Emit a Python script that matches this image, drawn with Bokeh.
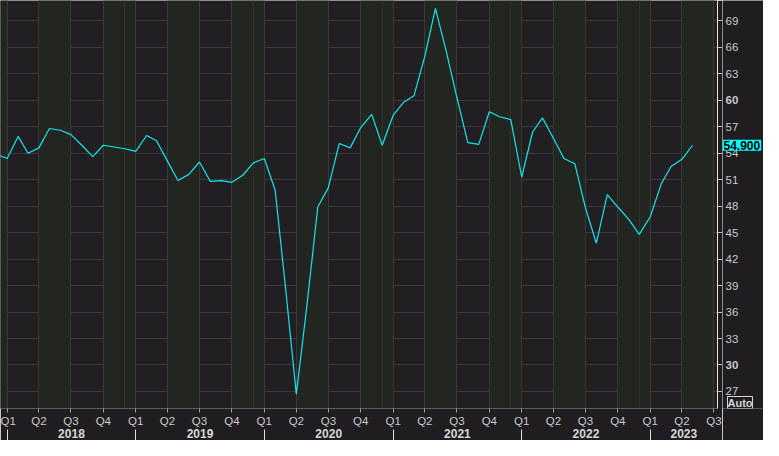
import datetime as dt
from bokeh.plotting import figure
from bokeh.models import Range1d, FixedTicker, LinearAxis, Label, Grid, ColumnDataSource
from bokeh.core.properties import value
from bokeh.layouts import row
from bokeh.embed import file_html
from bokeh.resources import INLINE

# ---- data (monthly, first day of month) ----
months = ["2017-12",
          "2018-01", "2018-02", "2018-03", "2018-04", "2018-05", "2018-06",
          "2018-07", "2018-08", "2018-09", "2018-10", "2018-11", "2018-12",
          "2019-01", "2019-02", "2019-03", "2019-04", "2019-05", "2019-06",
          "2019-07", "2019-08", "2019-09", "2019-10", "2019-11", "2019-12",
          "2020-01", "2020-02", "2020-03", "2020-04", "2020-05", "2020-06",
          "2020-07", "2020-08", "2020-09", "2020-10", "2020-11", "2020-12",
          "2021-01", "2021-02", "2021-03", "2021-04", "2021-05", "2021-06",
          "2021-07", "2021-08", "2021-09", "2021-10", "2021-11", "2021-12",
          "2022-01", "2022-02", "2022-03", "2022-04", "2022-05", "2022-06",
          "2022-07", "2022-08", "2022-09", "2022-10", "2022-11", "2022-12",
          "2023-01", "2023-02", "2023-03", "2023-04", "2023-05"]
values = [53.9,
          53.4, 55.9, 54.0, 54.6, 56.8, 56.6, 56.1, 54.9, 53.6, 54.9, 54.7, 54.5,
          54.2, 56.0, 55.4, 53.1, 50.9, 51.6, 53.0, 50.8, 50.9, 50.7, 51.5, 52.9,
          53.4, 49.8, 38.9, 26.7, 36.7, 47.9, 50.1, 55.1, 54.6, 56.9, 58.4, 54.9,
          58.3, 59.8, 60.5, 65.0, 70.4, 65.5, 60.3, 55.2, 55.0, 58.7, 58.1, 57.8,
          51.3, 56.4, 58.0, 55.7, 53.4, 52.8, 47.8, 43.8, 49.3, 47.9, 46.5, 44.8,
          46.8, 50.5, 52.5, 53.3, 54.9]
y_ticks = [27, 30, 33, 36, 39, 42, 45, 48, 51, 54, 57, 60, 63, 66, 69, 72]
years = [2018, 2019, 2020, 2021, 2022, 2023]
quarter_names = ["Q1", "Q2", "Q3", "Q4"]

EPOCH = dt.date(2018, 1, 1)


def day(d):
    return (d - EPOCH).days


xs = [day(dt.date(int(m[:4]), int(m[5:]), 1)) for m in months]

X_START = day(dt.date(2017, 12, 13))
X_END = day(dt.date(2023, 7, 11))
Y_START, Y_END = 25.07, 71.3

W, H = 763, 440
SIDE_W = 41
MAIN_W = W - SIDE_W
BOTTOM = 31

BG = "#1f1d20"
GRID = "#3a3b38"
TXT = "#c9c9c9"
FONT = "Liberation Sans"

p = figure(width=MAIN_W, height=H, output_backend="svg", toolbar_location=None,
           x_axis_type=None, y_axis_location="right",
           x_range=Range1d(X_START, X_END), y_range=Range1d(Y_START, Y_END),
           background_fill_color="#221f23", border_fill_color=BG,
           min_border_left=0, min_border_top=0, min_border_bottom=BOTTOM,
           min_border_right=5)
p.outline_line_color = None

# quarter ticks
q_ticks, q_over = [], {}
for yr in range(2017, 2024):
    for qi, mo in enumerate([1, 4, 7, 10]):
        t = day(dt.date(yr, mo, 1))
        if X_START - 100 <= t <= X_END:
            q_ticks.append(t)
            q_over[t] = quarter_names[qi]

# year labels: centred in the visible part of each year
y_mid, y_over, y_starts = [], {}, []
for yr in years:
    a = max(day(dt.date(yr, 1, 1)), X_START)
    b = min(day(dt.date(yr + 1, 1, 1)), X_END)
    m = (a + b) / 2.0
    y_mid.append(m)
    y_over[m] = str(yr)
    y_starts.append(day(dt.date(yr, 1, 1)))

dec_lines = [day(dt.date(yr, 12, 1)) for yr in range(2017, 2023)]

# grids
qgrid = Grid(dimension=0, ticker=FixedTicker(ticks=q_ticks),
             grid_line_color=GRID, band_fill_color="#232620", band_fill_alpha=1.0)
p.add_layout(qgrid)
dgrid = Grid(dimension=0, ticker=FixedTicker(ticks=dec_lines),
             grid_line_color="#30322f")
p.add_layout(dgrid)
p.ygrid.grid_line_color = GRID
p.ygrid.ticker = FixedTicker(ticks=y_ticks)

# right axis: line and ticks (labels are drawn in the side panel)
ya = p.yaxis[0]
ya.ticker = FixedTicker(ticks=y_ticks)
ya.major_label_overrides = {v: "" for v in y_ticks}
ya.axis_line_color = "#e6e6e6"
ya.major_tick_line_color = "#bdbdbd"
ya.major_tick_out = 5
ya.major_tick_in = 0
ya.minor_tick_line_color = None
ya.major_label_standoff = 0

# quarter axis
qa = LinearAxis(ticker=FixedTicker(ticks=q_ticks), major_label_overrides=q_over,
                axis_line_color="#5c5c5c", major_tick_line_color="#9a9a9a",
                major_tick_out=4, major_tick_in=0, minor_tick_line_color=None,
                major_label_text_color=TXT, major_label_text_font=FONT,
                major_label_text_font_size="11.5px", major_label_standoff=2)
p.add_layout(qa, "below")

# year axis
yax = LinearAxis(ticker=FixedTicker(ticks=y_mid, minor_ticks=y_starts),
                 major_label_overrides=y_over, axis_line_color=None,
                 major_tick_line_color=None, major_tick_out=0, major_tick_in=0,
                 minor_tick_line_color="#e0e0e0", minor_tick_out=14,
                 minor_tick_in=0,
                 major_label_text_color="#d6d6d6", major_label_text_font=FONT,
                 major_label_text_font_size="12px",
                 major_label_text_font_style="bold", major_label_standoff=-15)
p.add_layout(yax, "below")

# series
p.line(xs, values, line_color="#12e6ee", line_width=1.2)

# ---- side panel with the value-axis labels, last-value tag and "Auto" ----
s = figure(width=SIDE_W, height=H, output_backend="svg", toolbar_location=None,
           x_axis_type=None, y_axis_type=None,
           x_range=Range1d(0, SIDE_W), y_range=p.y_range,
           background_fill_color=BG, border_fill_color=BG,
           min_border_left=0, min_border_top=0, min_border_right=0,
           min_border_bottom=BOTTOM)
s.outline_line_color = None
s.xgrid.visible = False
s.ygrid.visible = False

lab_src = ColumnDataSource(dict(
    y=y_ticks,
    text=[str(v) for v in y_ticks],
    style=["bold" if v % 30 == 0 else "normal" for v in y_ticks],
    x=[3] * len(y_ticks),
))
s.text(x="x", y="y", text="text", source=lab_src, text_font_style="style",
       text_color=TXT, text_font=value(FONT),
       text_font_size="11.5px", text_baseline="middle", text_align="left")

s.add_layout(Label(x=0, y=values[-1], x_units="data", y_units="data",
                   text=f"{values[-1]:.3f}", text_baseline="middle",
                   text_color="#000000", text_font=FONT, text_font_size="12px",
                   text_font_style="bold", background_fill_color="#00ffff",
                   padding=1))

s.add_layout(Label(x=5, y=0, x_units="data", y_units="screen",
                   text="Auto", text_baseline="bottom", text_color="#d6d6d6",
                   text_font=FONT, text_font_size="11px", text_font_style="bold",
                   border_line_color="#d6d6d6", padding=0))

layout = row(p, s)
html = file_html(layout, INLINE)
open("out.html", "w").write(html)
